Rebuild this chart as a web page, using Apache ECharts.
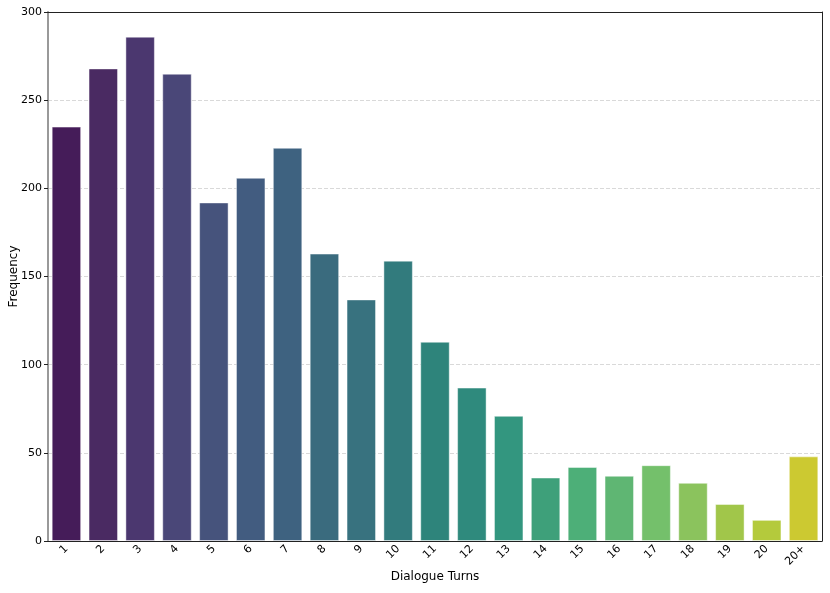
<!DOCTYPE html>
<html>
<head>
<meta charset="utf-8">
<script src="https://cdn.jsdelivr.net/npm/echarts@6/dist/echarts.min.js"></script>
<style>
  html, body { margin: 0; padding: 0; background: #fff; }
  #chart { width: 830px; height: 593px; }
</style>
</head>
<body>
<div id="chart"></div>
<script>
// dialogue turn buckets and how often each occurs
const turns = ['1', '2', '3', '4', '5', '6', '7', '8', '9', '10', '11', '12', '13', '14', '15', '16', '17', '18', '19', '20', '20+']
const frequency = [235, 268, 286, 265, 192, 206, 223, 163, 137, 159, 113, 87, 71, 36, 42, 37, 43, 33, 21, 12, 48]
// desaturated viridis, one per bar
const barColors = [
  '#451c59', '#4a2a62', '#4b376f', '#4a4778', '#46537c', '#425c80', '#3e6280',
  '#3a6b7e', '#38727f', '#327b7d', '#2e847b', '#2f8a7d', '#33967f', '#3ea07a',
  '#4daf78', '#5fb673', '#74c06b', '#8bc35d', '#a1c64a', '#b4ca3c', '#ccc931'
]
const yTicks = { min: 0, max: 300, interval: 50 }

const font = 'DejaVu Sans, sans-serif'
const chart = echarts.init(document.getElementById('chart'), null, { renderer: 'canvas' })

chart.setOption({
  animation: false,
  backgroundColor: '#fff',
  grid: { left: 48, right: 8, top: 12, bottom: 52, containLabel: false, outerBoundsMode: 'none' },
  xAxis: [{
    type: 'category',
    data: turns,
    name: 'Dialogue Turns',
    nameLocation: 'middle',
    nameGap: 30,
    nameMoveOverlap: false,
    nameTextStyle: { fontFamily: font, fontSize: 12, color: '#000' },
    axisLine: { show: true, lineStyle: { color: '#222', width: 1 } },
    axisTick: { alignWithLabel: true, length: 4, lineStyle: { color: '#222' } },
    axisLabel: { rotate: 45, fontFamily: font, fontSize: 11, color: '#000', margin: 6 },
    splitLine: { show: false }
  }, {
    type: 'category',
    data: turns,
    position: 'top',
    axisLine: { show: true, onZero: false, lineStyle: { color: '#222', width: 1 } },
    axisTick: { show: false },
    axisLabel: { show: false }
  }],
  yAxis: [{
    type: 'value',
    min: yTicks.min,
    max: yTicks.max,
    interval: yTicks.interval,
    name: 'Frequency',
    nameLocation: 'middle',
    nameGap: 28,
    nameMoveOverlap: false,
    nameTextStyle: { fontFamily: font, fontSize: 12, color: '#000' },
    axisLine: { show: true, lineStyle: { color: '#999', width: 2 } },
    axisTick: { show: true, length: 4, lineStyle: { color: '#222' } },
    axisLabel: { fontFamily: font, fontSize: 11, color: '#000', margin: 6 },
    splitLine: { show: true, lineStyle: { color: '#cfcfcf', type: [4, 2], width: 0.8 } }
  }, {
    type: 'value',
    min: yTicks.min,
    max: yTicks.max,
    interval: yTicks.interval,
    position: 'right',
    axisLine: { show: true, onZero: false, lineStyle: { color: '#222', width: 1 } },
    axisTick: { show: false },
    axisLabel: { show: false },
    splitLine: { show: false }
  }],
  series: [{
    type: 'bar',
    data: frequency.map((v, i) => ({ value: v, itemStyle: { color: barColors[i] } })),
    barCategoryGap: '20%',
    itemStyle: { borderColor: 'rgba(255,255,255,0.45)', borderWidth: 1 }
  }]
})
</script>
</body>
</html>
